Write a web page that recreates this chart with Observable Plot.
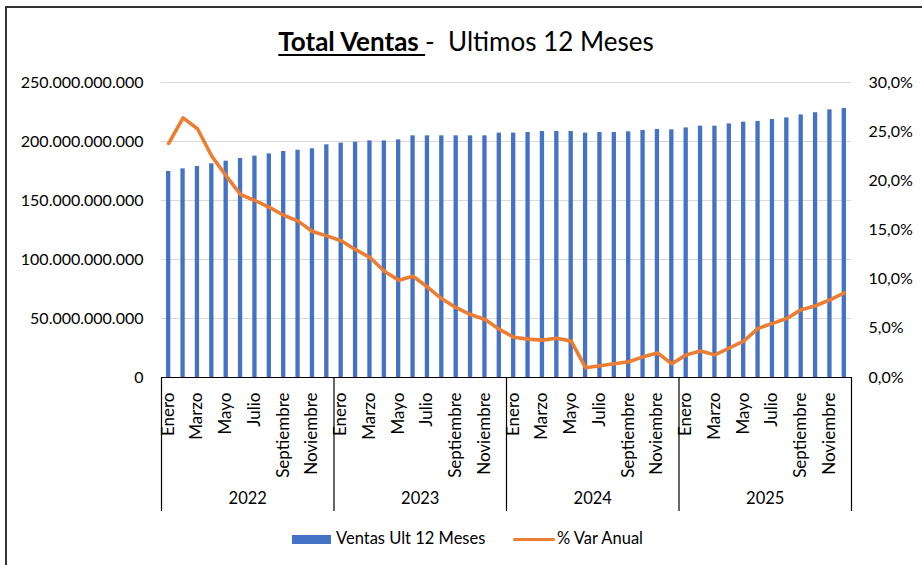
<!DOCTYPE html>
<html>
<head>
<meta charset="utf-8">
<script src="https://cdn.jsdelivr.net/npm/d3@7"></script>
<script src="https://cdn.jsdelivr.net/npm/@observablehq/plot@0.6"></script>
<style>
  html, body { margin: 0; padding: 0; background: #fff; }
  #wrap { position: relative; width: 922px; height: 565px; overflow: hidden; font-family: Lato, "Open Sans", sans-serif; color: #000; }
  #bl { position: absolute; left: 5px; top: 6px; width: 2px; height: 600px; background: #333; }
  #bt { position: absolute; left: 5px; top: 6px; width: 940px; height: 2px; background: #333; }
  #title { position: absolute; left: 6px; top: 25px; width: 920px; text-align: center; font-size: 26px; line-height: 32px; }
  #title b { text-decoration: underline; text-underline-offset: 3px; }
  #chart { position: absolute; left: 0; top: 62px; }
  #legend { position: absolute; left: 0; top: 526px; width: 922px; height: 24px; font-size: 16.5px; }
  .li { position: absolute; top: 0; line-height: 24px; white-space: nowrap; }
</style>
</head>
<body>
<div id="wrap">
  <div id="bl"></div><div id="bt"></div>
  <div id="title"><b>Total Ventas </b>-&nbsp; Ultimos 12 Meses</div>
  <div id="chart"></div>
  <div id="legend">
    <div class="li" style="left:292px;"><span style="display:inline-block;width:39px;height:9px;background:#4472C4;vertical-align:middle;margin-right:5px;"></span>Ventas Ult 12 Meses</div>
    <div class="li" style="left:513px;"><span style="display:inline-block;width:42px;height:3px;background:#ED7D31;vertical-align:middle;margin-right:2px;border-radius:2px;"></span>% Var Anual</div>
  </div>
</div>
<script>
const years = [2022, 2023, 2024, 2025];
const months = ["Enero","Febrero","Marzo","Abril","Mayo","Junio","Julio","Agosto","Septiembre","Octubre","Noviembre","Diciembre"];
// Ventas últimos 12 meses (miles de millones)
const ventas = [
  174.6,176.8,178.8,181.1,183.3,185.6,187.6,189.5,191.5,192.6,193.8,197.2,
  198.6,199.4,200.5,200.5,201.4,204.8,204.8,204.8,204.8,204.8,204.8,207.1,
  207.1,207.6,208.5,208.5,208.5,207.1,207.6,207.6,208.2,209.3,210.2,209.9,
  211.5,213.0,213.0,214.9,216.4,217.0,218.6,220.0,222.5,224.4,226.8,228.0
];
// % variación anual
const varAnual = [
  23.8,26.4,25.3,22.5,20.5,18.6,18.0,17.3,16.5,15.9,14.85,14.4,
  13.9,13.0,12.2,10.8,9.9,10.3,9.2,8.0,7.1,6.4,5.9,4.9,
  4.1,3.9,3.8,4.0,3.7,1.0,1.2,1.4,1.6,2.1,2.5,1.4,
  2.3,2.7,2.3,3.0,3.7,5.0,5.5,6.0,6.9,7.3,7.9,8.6
];
const leftTicks = [0, 50e9, 100e9, 150e9, 200e9, 250e9];
const rightTicks = [0, 5, 10, 15, 20, 25, 30];

const yMax = 250e9, pMax = 30, k = yMax / pMax;
const rows = [];
years.forEach((yr, yi) => months.forEach((m, mi) => {
  const i = yi * 12 + mi;
  rows.push({key: `${yr}-${mi}`, year: yr, month: m, mi, v: ventas[i] * 1e9, p: varAnual[i]});
}));
const keys = rows.map(d => d.key);
const fmtNum = d => d3.format(",")(d).replace(/,/g, ".");
const fmtPct = d => (d / k).toFixed(1).replace(".", ",") + "%";
const half = 690 / 48 / 2;

const chart = Plot.plot({
  width: 922, height: 453,
  marginLeft: 161, marginRight: 71, marginTop: 20, marginBottom: 138,
  style: {fontFamily: "Lato, 'Open Sans', sans-serif", fontSize: "16px", color: "#000", background: "transparent"},
  x: {type: "band", domain: keys, paddingInner: 0.70, paddingOuter: 0.35, round: false, axis: null},
  y: {domain: [0, yMax], axis: null},
  marks: [
    Plot.gridY(leftTicks, {stroke: "#d9d9d9", strokeOpacity: 1}),
    Plot.axisY(leftTicks, {anchor: "left", tickSize: 0, tickPadding: 18, tickFormat: fmtNum, fontSize: 16, label: null}),
    Plot.axisY(rightTicks.map(p => p * k), {anchor: "right", tickSize: 0, tickPadding: 17, tickFormat: fmtPct, fontSize: 16, label: null}),
    Plot.barY(rows, {x: "key", y: "v", fill: "#4472C4"}),
    Plot.ruleY([0], {stroke: "#000", strokeWidth: 1.2}),
    Plot.lineY(rows, {x: "key", y: d => d.p * k, stroke: "#ED7D31", strokeWidth: 3.6, strokeLinejoin: "round", strokeLinecap: "round"}),
    Plot.text(rows.filter(d => d.mi % 2 === 0), {x: "key", text: "month", frameAnchor: "bottom", rotate: -90, textAnchor: "end", dx: 5, dy: 15, fontSize: 17}),
    Plot.text(rows.filter(d => d.mi === 6), {x: "key", text: d => String(d.year), frameAnchor: "bottom", dx: -half, dy: 126, fontSize: 16.5}),
    Plot.ruleX(rows.filter(d => d.mi === 0), {x: "key", dx: -half, stroke: "#000", strokeWidth: 1.2, insetTop: 295, insetBottom: -134}),
    Plot.ruleX(rows.filter(d => d.key === "2025-11"), {x: "key", dx: half, stroke: "#000", strokeWidth: 1.2, insetTop: 295, insetBottom: -134})
  ]
});
document.getElementById("chart").appendChild(chart);
</script>
</body>
</html>
